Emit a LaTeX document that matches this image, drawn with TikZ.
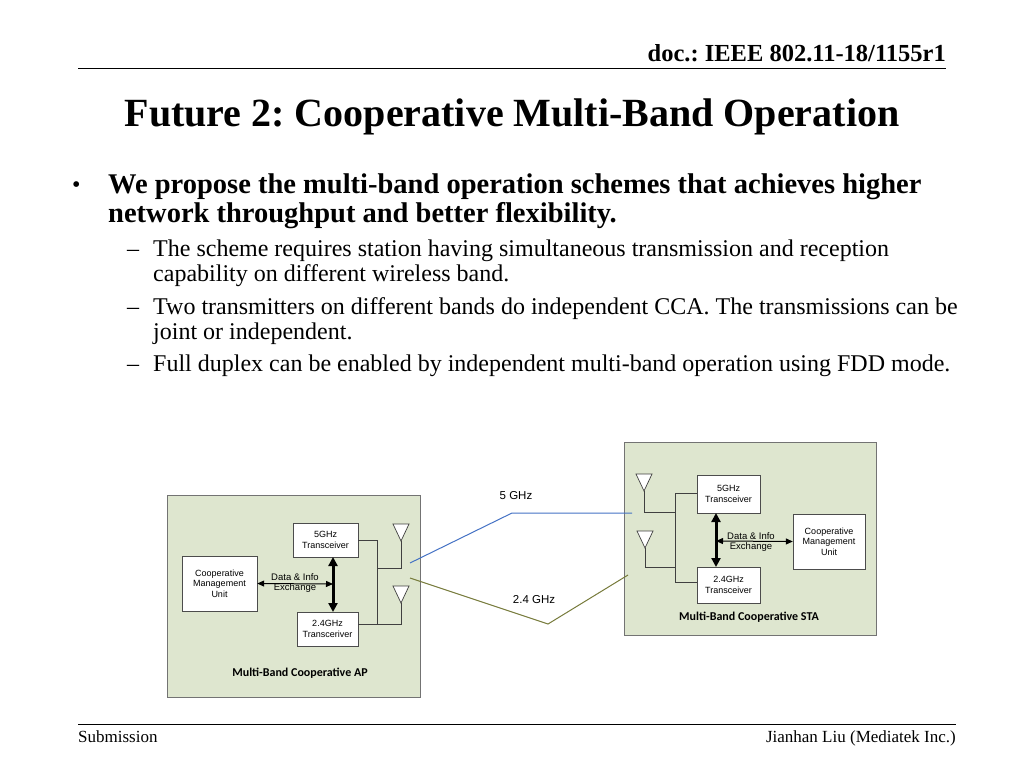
\documentclass[tikz,border=0pt]{standalone}
\usepackage{fontspec}
\setmainfont{Liberation Serif}
\newfontfamily\diagfont{Liberation Sans}
\newfontfamily\capfont{Carlito}
\usetikzlibrary{positioning, arrows.meta}
\frenchspacing

\definecolor{panel}{RGB}{222,230,207}
\definecolor{linkblue}{RGB}{68,114,196}
\definecolor{linkgreen}{RGB}{118,122,58}

\tikzset{
    box/.style={draw=black!70, fill=white, align=center, font=\diagfont\fontsize{9}{10.5}\selectfont, inner sep=0pt},
    panelbox/.style={draw=black!55, fill=panel, line width=0.8pt},
    wire/.style={draw=black!75, line width=0.7pt},
    bus/.style={line width=3pt, {Triangle[width=9pt,length=9pt]}-{Triangle[width=9pt,length=9pt]}},
    info/.style={line width=1pt, {Triangle[width=6pt,length=7pt]}-{Triangle[width=6pt,length=7pt]}},
    caption/.style={font=\capfont\bfseries\fontsize{12}{14}\selectfont},
    bodyline/.style={anchor=base west, inner sep=0pt, font=\fontsize{24}{28}\selectfont},
    mainline/.style={anchor=base west, inner sep=0pt, font=\bfseries\fontsize{28.5}{32}\selectfont},
}

\begin{document}
\begin{tikzpicture}[x=1pt, y=-1pt]
\useasboundingbox (0,0) rectangle (1024,768);

% header and footer
\node[anchor=base east, inner sep=0pt, font=\bfseries\fontsize{24.5}{28}\selectfont] (doc) at (946,62) {doc.: IEEE 802.11-18/1155r1};
\draw (78,68) -- (946,68);
\draw (78,724) -- (956,724);
\node[anchor=base west, inner sep=0pt, font=\fontsize{17}{20}\selectfont] (sub) at (78,742) {Submission};
\node[anchor=base east, inner sep=0pt, font=\fontsize{17}{20}\selectfont] (author) at (956,742) {Jianhan Liu (Mediatek Inc.)};

% title
\node[anchor=base, inner sep=0pt, font=\bfseries\fontsize{40}{46}\selectfont] (title) at (512,126) {Future 2: Cooperative Multi-Band Operation};

% bullets
\node[bodyline] (dot) at (72,192) {\textbullet};
\node[mainline] (main-1) at (108,193) {We propose the multi-band operation schemes that achieves higher};
\node[mainline] (main-2) at (108,222) {network throughput and better flexibility.};
\foreach \y in {256, 314, 371} {
    \node[bodyline] at (127,\y) {--};
}
\node[bodyline] (sub-1a) at (153,256) {The scheme requires station having simultaneous transmission and reception};
\node[bodyline] (sub-1b) at (153,281) {capability on different wireless band.};
\node[bodyline] (sub-2a) at (153,314) {Two transmitters on different bands do independent CCA. The transmissions can be};
\node[bodyline] (sub-2b) at (153,339) {joint or independent.};
\node[bodyline] (sub-3) at (153,371) {Full duplex can be enabled by independent multi-band operation using FDD mode.};

% AP panel
\draw[panelbox] (167,495) rectangle (420,697);
\node[box, minimum width=65pt, minimum height=34pt] (ap-5g) at (325.5,540) {5GHz\\Transceiver};
\node[box, minimum width=75pt, minimum height=55pt] (ap-cmu) at (219.5,583.5) {Cooperative\\Management\\Unit};
\node[box, minimum width=61pt, minimum height=34pt] (ap-24g) at (327.5,629) {2.4GHz\\Transceriver};
\node[caption] (ap-cap) at (300,673) {Multi-Band Cooperative AP};

% AP antennas
\coordinate (ap-ant-1) at (401,541);
\coordinate (ap-ant-2) at (401,603);
\foreach \a in {1, 2} {
    \draw[wire, fill=white] (ap-ant-\a) -- ++(-8,-17) -- ++(16,0) -- cycle;
}
\draw[wire] (ap-5g.east) -| (377,624) -- (ap-24g.east |- 0,624);
\draw[wire] (ap-ant-1) |- (377,568);
\draw[wire] (ap-ant-2) |- (377,624);

\draw[bus] (333,557) -- (333,612);
\draw[info] (ap-cmu.east) -- (333,584);
\node[font=\diagfont\fontsize{9.5}{10.5}\selectfont, align=center, inner sep=0pt] (ap-info) at (295,583) {Data \& Info\\Exchange};

% STA panel
\draw[panelbox] (624,442) rectangle (876,635);
\node[box, minimum width=63pt, minimum height=38pt] (sta-5g) at (728.5,494) {5GHz\\Transceiver};
\node[box, minimum width=63pt, minimum height=36pt] (sta-24g) at (728.5,585) {2.4GHz\\Transceiver};
\node[box, minimum width=72pt, minimum height=55pt] (sta-cmu) at (829,541.5) {Cooperative\\Management\\Unit};
\node[caption] (sta-cap) at (749,617) {Multi-Band Cooperative STA};

% STA antennas
\coordinate (sta-ant-1) at (644,491);
\coordinate (sta-ant-2) at (645,548);
\foreach \a in {1, 2} {
    \draw[wire, fill=white] (sta-ant-\a) -- ++(-8,-17) -- ++(16,0) -- cycle;
}
\draw[wire] (sta-5g.west |- 0,493) -| (675,582) -- (sta-24g.west |- 0,582);
\draw[wire] (sta-ant-1) |- (675,512);
\draw[wire] (sta-ant-2) |- (675,567);
\draw[bus] (716,513) -- (716,567);
\draw[info] (716,541) -- (sta-cmu.west);
\node[font=\diagfont\fontsize{9.5}{10.5}\selectfont, align=center, inner sep=0pt] (sta-info) at (751,542) {Data \& Info\\Exchange};

% radio links
\coordinate (blue-mid) at (512,513);
\coordinate (green-mid) at (548,624);
\draw[linkblue, line width=1pt] (410,563) -- (blue-mid) -- (632,513);
\draw[linkgreen, line width=1pt] (410,578) -- (green-mid) -- (628,575);
\node[font=\diagfont\fontsize{11.5}{13}\selectfont] (lbl-5g) at (516,496) {5 GHz};
\node[font=\diagfont\fontsize{11.5}{13}\selectfont] (lbl-24g) at (534,600) {2.4 GHz};
\end{tikzpicture}
\end{document}
